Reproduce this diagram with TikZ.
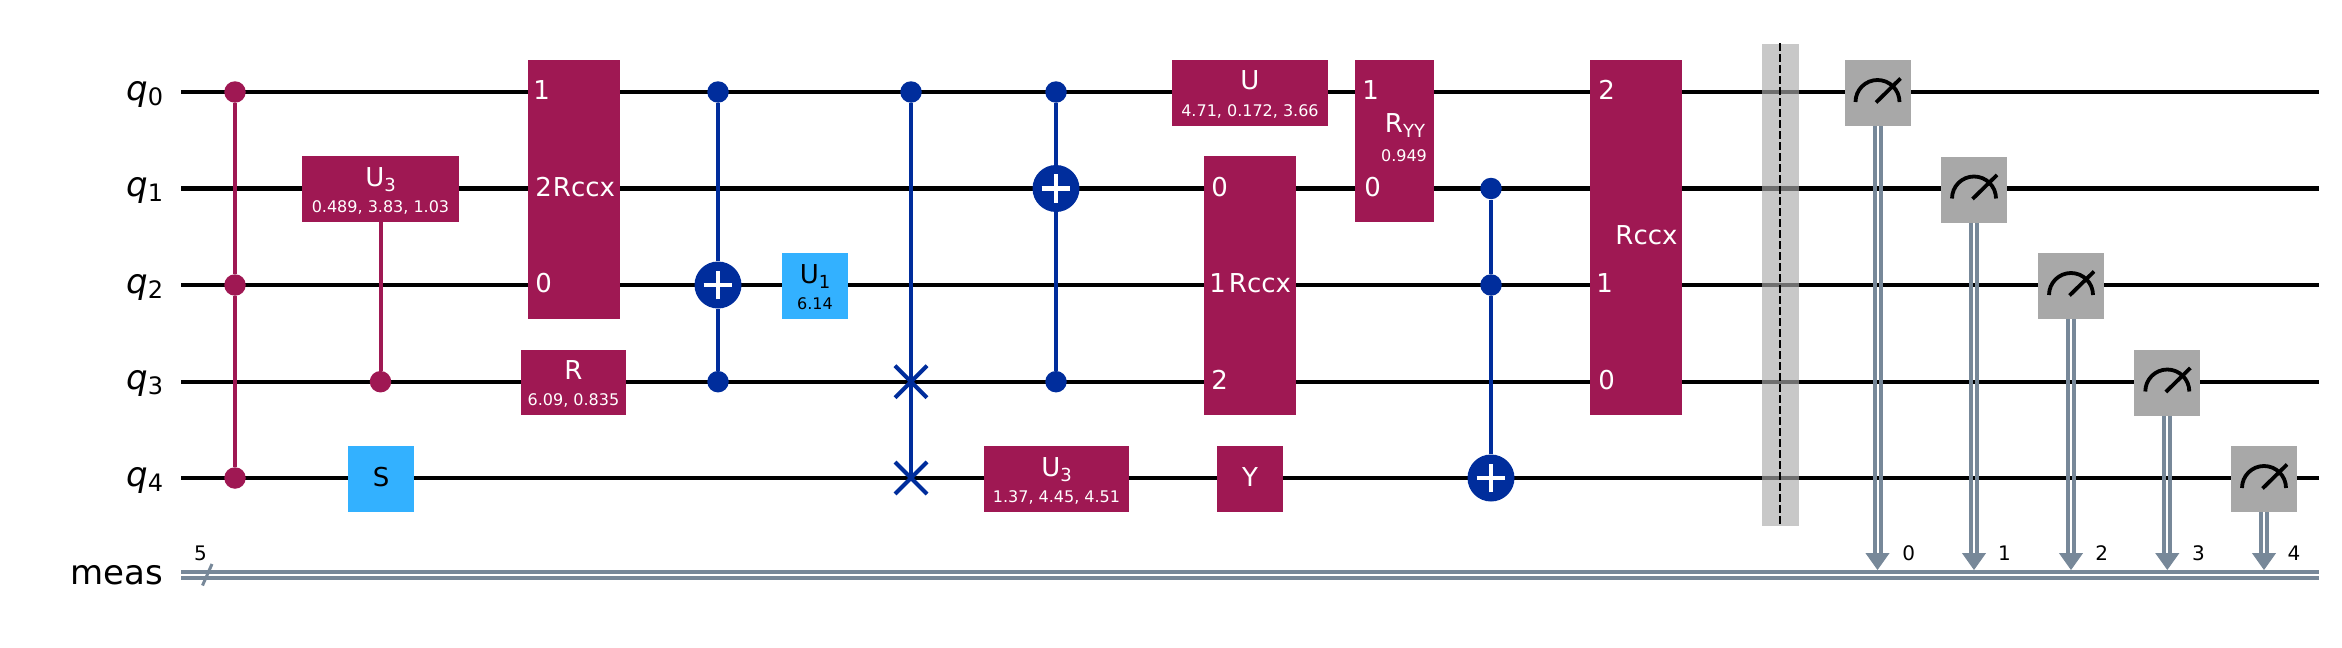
\documentclass[tikz,border=0pt]{standalone}
\usepackage{fontspec}
\setmainfont{DejaVu Sans}
\usepackage{xcolor}
\usetikzlibrary{arrows.meta, shapes.misc}
\definecolor{gatepurple}{HTML}{9F1853}
\definecolor{gatesky}{HTML}{33B1FF}
\definecolor{gatenavy}{HTML}{002D9C}
\definecolor{metergray}{HTML}{A8A8A8}
\definecolor{classicgray}{HTML}{778899}
\newcommand{\gatesub}[1]{\raisebox{-2.5pt}{\fontsize{9}{9}\selectfont #1}}
\newcommand{\wiresub}[1]{\raisebox{-2.5pt}{\fontsize{12}{12}\selectfont #1}}
\tikzset{
    wire/.style={draw=black, line width=2.15pt},
    wirelabel/.style={anchor=base east, inner sep=0pt, font=\fontsize{17}{19}\selectfont},
    classic/.style={draw=classicgray, line width=2pt},
    classicleft/.style={classic, transform canvas={xshift=-1.5pt}},
    classicright/.style={classic, transform canvas={xshift=1.5pt}},
    measarrow/.style={draw=classicgray, fill=classicgray, line width=0.5pt, -{Triangle[width=12pt, length=8.5pt]}},
    bitlabel/.style={anchor=base, inner sep=0pt, font=\fontsize{10}{12}\selectfont},
    purplebox/.style={rectangle, fill=gatepurple, inner sep=0pt},
    skybox/.style={rectangle, fill=gatesky, inner sep=0pt},
    meterbox/.style={rectangle, fill=metergray, inner sep=0pt, minimum width=33pt, minimum height=33pt},
    metericon/.style={draw=black, line width=1.9pt},
    gatetext/.style={anchor=base, inner sep=0pt, text=white, font=\fontsize{13}{15}\selectfont},
    paramtext/.style={anchor=base, inner sep=0pt, text=white, font=\fontsize{8}{10}\selectfont},
    indextext/.style={anchor=base west, inner sep=0pt, text=white, font=\fontsize{13}{15}\selectfont},
    purpledot/.style={circle, fill=gatepurple, inner sep=0pt, minimum size=10.75pt},
    navydot/.style={circle, fill=gatenavy, inner sep=0pt, minimum size=10.75pt},
    purpleline/.style={draw=gatepurple, line width=2pt},
    navyline/.style={draw=gatenavy, line width=2pt},
    swapmark/.style={cross out, draw=gatenavy, line width=2pt, inner sep=0pt, minimum size=14pt},
    target/.style={circle, fill=gatenavy, inner sep=0pt, minimum size=23.5pt,
        path picture={\draw [white, line width=2.2pt]
            (path picture bounding box.center) +(-7.2pt, 0pt) -- +(7.2pt, 0pt)
            (path picture bounding box.center) +(0pt, -7.2pt) -- +(0pt, 7.2pt);}},
}
\begin{document}
\begin{tikzpicture}[x=0.5pt, y=-0.5pt]
        \useasboundingbox (0, 0) rectangle (2342, 648);
        % Wires
        \coordinate (q0s) at (181, 92);
        \coordinate (q0e) at (2319, 92);
        \coordinate (q1s) at (181, 188.5);
        \coordinate (q1e) at (2319, 188.5);
        \coordinate (q2s) at (181, 285);
        \coordinate (q2e) at (2319, 285);
        \coordinate (q3s) at (181, 381.7);
        \coordinate (q3e) at (2319, 381.7);
        \coordinate (q4s) at (181, 478);
        \coordinate (q4e) at (2319, 478);
        \draw [wire] (q0s) -- (q0e);
        \draw [wire] (q1s) -- (q1e);
        \draw [wire] (q2s) -- (q2e);
        \draw [wire] (q3s) -- (q3e);
        \draw [wire] (q4s) -- (q4e);
        % Classical register
        \coordinate (meastops) at (181, 572);
        \coordinate (meastope) at (2319, 572);
        \coordinate (measbots) at (181, 578);
        \coordinate (measbote) at (2319, 578);
        \draw [classic] (meastops) -- (meastope);
        \draw [classic] (measbots) -- (measbote);
        \draw [draw=classicgray, line width=1.5pt] (202.5, 585.5) -- (212, 564);
        \node (regsize) [bitlabel] at (200.5, 560.5) {5};
        % Wire labels
        \node (labq0) [wirelabel] at (163.5, 100) {\textit{q}\wiresub{0}};
        \node (labq1) [wirelabel] at (163.5, 196.5) {\textit{q}\wiresub{1}};
        \node (labq2) [wirelabel] at (163.5, 293) {\textit{q}\wiresub{2}};
        \node (labq3) [wirelabel] at (163.5, 389.5) {\textit{q}\wiresub{3}};
        \node (labq4) [wirelabel] at (163.5, 486) {\textit{q}\wiresub{4}};
        \node (labmeas) [wirelabel] at (163.5, 584) {meas};
        % Controlled Z on q0, q2, q4
        \node (czq0) [purpledot] at (235, 92) {};
        \node (czq2) [purpledot] at (235, 285) {};
        \node (czq4) [purpledot] at (235, 478) {};
        \draw [purpleline] (czq0) -- (czq2);
        \draw [purpleline] (czq2) -- (czq4);
        % U3 on q1
        \node (uthreea) [purplebox, minimum width=78.5pt, minimum height=33pt] at (380.5, 188.7) {};
        \node (uthreeactrl) [purpledot] at (380.5, 381.7) {};
        \draw [purpleline] (uthreea) -- (uthreeactrl);
        \node (uthreeaname) [gatetext] at (380.5, 186.5) {U\gatesub{3}};
        \node (uthreeaparam) [paramtext] at (380.5, 212.5) {0.489, 3.83, 1.03};
        % S
        \node (sgate) [skybox, minimum width=33pt, minimum height=33pt] at (381, 478.7) {};
        \node (sname) [gatetext, text=black] at (381, 486) {S};
        % Rccx one
        \node (rccxa) [purplebox, minimum width=46pt, minimum height=129.3pt] at (574, 189.3) {};
        \node (rccxaone) [indextext] at (533, 99) {1};
        \node (rccxatwo) [indextext] at (535, 196) {2};
        \node (rccxazero) [indextext] at (535, 292.5) {0};
        \node (rccxaname) [gatetext] at (584, 196) {Rccx};
        % R
        \node (rgate) [purplebox, minimum width=52.5pt, minimum height=32.5pt] at (573.5, 382.2) {};
        \node (rname) [gatetext] at (573.5, 379.5) {R};
        \node (rparam) [paramtext] at (573.5, 405.5) {6.09, 0.835};
        % CX one
        \node (cxaq0) [navydot] at (718, 92) {};
        \node (cxaq2) [target] at (718, 285) {};
        \node (cxaq3) [navydot] at (718, 381.7) {};
        \draw [navyline] (cxaq0) -- (cxaq2);
        \draw [navyline] (cxaq2) -- (cxaq3);
        % U1
        \node (uone) [skybox, minimum width=33pt, minimum height=33pt] at (815, 285.8) {};
        \node (uonename) [gatetext, text=black] at (815, 283) {U\gatesub{1}};
        \node (uoneparam) [paramtext, text=black] at (815, 309) {6.14};
        % Swap
        \node (swapq0) [navydot] at (911, 92) {};
        \node (swapq3) [swapmark] at (911, 381.7) {};
        \node (swapq4) [swapmark] at (911, 478) {};
        \draw [navyline] (swapq0) -- (swapq4.center);
        % CX two
        \node (cxbq0) [navydot] at (1056, 92) {};
        \node (cxbq1) [target] at (1056, 188.5) {};
        \node (cxbq3) [navydot] at (1056, 381.7) {};
        \draw [navyline] (cxbq0) -- (cxbq1);
        \draw [navyline] (cxbq1) -- (cxbq3);
        % U3 on q4
        \node (uthreeb) [purplebox, minimum width=72.5pt, minimum height=33pt] at (1056.5, 478.7) {};
        \node (uthreebname) [gatetext] at (1056.5, 476) {U\gatesub{3}};
        \node (uthreebparam) [paramtext] at (1056.5, 502) {1.37, 4.45, 4.51};
        % U
        \node (ugate) [purplebox, minimum width=78pt, minimum height=33pt] at (1250, 93) {};
        \node (uname) [gatetext] at (1250, 90) {U};
        \node (uparam) [paramtext] at (1250, 116) {4.71, 0.172, 3.66};
        % Rccx two
        \node (rccxb) [purplebox, minimum width=46pt, minimum height=129.3pt] at (1250, 285.2) {};
        \node (rccxbzero) [indextext] at (1211, 196) {0};
        \node (rccxbone) [indextext] at (1209, 292.5) {1};
        \node (rccxbtwo) [indextext] at (1211, 389) {2};
        \node (rccxbname) [gatetext] at (1260, 292.5) {Rccx};
        % Y
        \node (ygate) [purplebox, minimum width=33pt, minimum height=33pt] at (1250, 478.7) {};
        \node (yname) [gatetext] at (1250, 486) {Y};
        % Ryy
        \node (ryy) [purplebox, minimum width=39.5pt, minimum height=81pt] at (1394.5, 141) {};
        \node (ryyone) [indextext] at (1362, 99) {1};
        \node (ryyzero) [indextext] at (1364, 196) {0};
        \node (ryyname) [gatetext] at (1405, 132) {R\gatesub{YY}};
        \node (ryyparam) [paramtext] at (1404, 161.7) {0.949};
        % Toffoli
        \node (ccxq1) [navydot] at (1491, 188.5) {};
        \node (ccxq2) [navydot] at (1491, 285) {};
        \node (ccxq4) [target] at (1491, 478) {};
        \draw [navyline] (ccxq1) -- (ccxq2);
        \draw [navyline] (ccxq2) -- (ccxq4);
        % Rccx three
        \node (rccxc) [purplebox, minimum width=46pt, minimum height=177.3pt] at (1636, 237.2) {};
        \node (rccxctwo) [indextext] at (1598, 99) {2};
        \node (rccxcone) [indextext] at (1596, 292.5) {1};
        \node (rccxczero) [indextext] at (1598, 389) {0};
        \node (rccxcname) [gatetext] at (1646.5, 244) {Rccx};
        % Barrier
        \node (barrier) [rectangle, fill=black!33, fill opacity=0.65, inner sep=0pt, minimum width=18.4pt, minimum height=241.3pt] at (1780.6, 285) {};
        \draw [black, line width=1.1pt, dash pattern=on 3.75pt off 1.75pt] (barrier.north -| 1780, 0) -- (barrier.south -| 1780, 0);
        % Measure 0
        \coordinate (arrow0) at (1877.5, 553.5);
        \coordinate (tip0) at (1877.5, 570);
        \node (meter0) [meterbox] at (1877.5, 93) {};
        \draw [classicleft] (meter0) -- (arrow0);
        \draw [classicright] (meter0) -- (arrow0);
        \draw [measarrow] (arrow0) -- (tip0);
        \draw [metericon] (1855.5, 102) arc [start angle=180, end angle=0, radius=11pt];
        \draw [metericon] (1876, 102.5) -- (1900.5, 78.5);
        \node (bit0) [bitlabel] at (1908.6, 560.7) {0};
        % Measure 1
        \coordinate (arrow1) at (1974, 553.5);
        \coordinate (tip1) at (1974, 570);
        \node (meter1) [meterbox] at (1974, 189.5) {};
        \draw [classicleft] (meter1) -- (arrow1);
        \draw [classicright] (meter1) -- (arrow1);
        \draw [measarrow] (arrow1) -- (tip1);
        \draw [metericon] (1952, 198.5) arc [start angle=180, end angle=0, radius=11pt];
        \draw [metericon] (1972.5, 199) -- (1997, 175);
        \node (bit1) [bitlabel] at (2004.4, 560.7) {1};
        % Measure 2
        \coordinate (arrow2) at (2071, 553.5);
        \coordinate (tip2) at (2071, 570);
        \node (meter2) [meterbox] at (2071, 286) {};
        \draw [classicleft] (meter2) -- (arrow2);
        \draw [classicright] (meter2) -- (arrow2);
        \draw [measarrow] (arrow2) -- (tip2);
        \draw [metericon] (2049, 295) arc [start angle=180, end angle=0, radius=11pt];
        \draw [metericon] (2069.5, 295.5) -- (2094, 271.5);
        \node (bit2) [bitlabel] at (2101.6, 560.7) {2};
        % Measure 3
        \coordinate (arrow3) at (2167.3, 553.5);
        \coordinate (tip3) at (2167.3, 570);
        \node (meter3) [meterbox] at (2167.3, 382.5) {};
        \draw [classicleft] (meter3) -- (arrow3);
        \draw [classicright] (meter3) -- (arrow3);
        \draw [measarrow] (arrow3) -- (tip3);
        \draw [metericon] (2145.3, 391.5) arc [start angle=180, end angle=0, radius=11pt];
        \draw [metericon] (2165.8, 392) -- (2190.3, 368);
        \node (bit3) [bitlabel] at (2198.4, 560.7) {3};
        % Measure 4
        \coordinate (arrow4) at (2264, 553.5);
        \coordinate (tip4) at (2264, 570);
        \node (meter4) [meterbox] at (2264, 479) {};
        \draw [classicleft] (meter4) -- (arrow4);
        \draw [classicright] (meter4) -- (arrow4);
        \draw [measarrow] (arrow4) -- (tip4);
        \draw [metericon] (2242, 488) arc [start angle=180, end angle=0, radius=11pt];
        \draw [metericon] (2262.5, 488.5) -- (2287, 464.5);
        \node (bit4) [bitlabel] at (2294, 560.7) {4};
\end{tikzpicture}
\end{document}
